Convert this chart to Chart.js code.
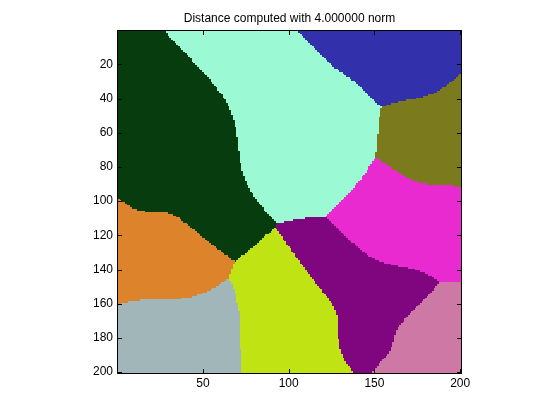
<!DOCTYPE html>
<html>
<head>
<meta charset="utf-8">
<script src="https://cdn.jsdelivr.net/npm/chart.js@4.4.1/dist/chart.umd.min.js"></script>
<style>
html, body { margin: 0; padding: 0; background: #fff; }
</style>
</head>
<body>
<canvas id="chart" width="560" height="420"></canvas>
<script>
// Voronoi seeds, one colour per region
const seedNames = ['dark green', 'aqua', 'blue', 'olive', 'magenta', 'purple', 'pink', 'yellow', 'grey', 'orange'];
const seedX = [26.3, 115, 150.3, 189, 184.5, 146.8, 176.1, 111, 33, 16.1];
const seedY = [89.4, 46.2, 6, 75.7, 104.7, 171.9, 190, 181.3, 192.1, 123.1];
const cellColors = ['#063c0e', '#9bf9d3', '#3230aa', '#7b7b1d', '#e82ad0', '#7f067f', '#ce78a6', '#c0e314', '#a0b6b8', '#dd832b'];
const xTickValues = [50, 100, 150, 200];
const yTickValues = [20, 40, 60, 80, 100, 120, 140, 160, 180, 200];
const normP = 4;
const gridSize = 200;
const titleText = 'Distance computed with 4.000000 norm';

// each pixel takes the label of its nearest seed in the 4-norm
const labels = [];
for (let j = 1; j <= gridSize; j++) {
  const row = [];
  for (let i = 1; i <= gridSize; i++) {
    let bk = 0, bd = Infinity;
    for (let k = 0; k < seedX.length; k++) {
      const d = Math.pow(Math.abs(i - seedX[k]), normP) + Math.pow(Math.abs(j - seedY[k]), normP);
      if (d < bd) { bd = d; bk = k; }
    }
    row.push(bk);
  }
  labels.push(row);
}

const cellPlugin = {
  id: 'cells',
  beforeDatasetsDraw(chart) {
    const { ctx, scales: { x, y } } = chart;
    ctx.save();
    for (let j = 0; j < gridSize; j++) {
      const ya = Math.round(y.getPixelForValue(j + 0.5)), yb = Math.round(y.getPixelForValue(j + 1.5));
      const row = labels[j];
      let c = 0;
      while (c < gridSize) {
        const lab = row[c];
        let e = c;
        while (e + 1 < gridSize && row[e + 1] === lab) e++;
        const xa = Math.round(x.getPixelForValue(c + 0.5)), xb = Math.round(x.getPixelForValue(e + 1.5));
        ctx.fillStyle = cellColors[lab];
        ctx.fillRect(xa, Math.min(ya, yb), xb - xa, Math.abs(yb - ya));
        c = e + 1;
      }
    }
    ctx.restore();
  }
};

// box round the axes with inward tick marks on all four sides
const framePlugin = {
  id: 'frame',
  afterDatasetsDraw(chart) {
    const { ctx, chartArea: a, scales: { x, y } } = chart;
    ctx.save();
    ctx.strokeStyle = '#000';
    ctx.lineWidth = 1;
    ctx.beginPath();
    for (const v of xTickValues) {
      const px = Math.round(x.getPixelForValue(v)) + 0.5;
      ctx.moveTo(px, a.bottom); ctx.lineTo(px, a.bottom - 4);
      ctx.moveTo(px, a.top); ctx.lineTo(px, a.top + 4);
    }
    for (const v of yTickValues) {
      const py = Math.round(y.getPixelForValue(v)) + 0.5;
      ctx.moveTo(a.left, py); ctx.lineTo(a.left + 4, py);
      ctx.moveTo(a.right, py); ctx.lineTo(a.right - 4, py);
    }
    ctx.stroke();
    ctx.strokeRect(a.left - 0.5, a.top - 0.5, a.right - a.left + 1, a.bottom - a.top + 1);
    ctx.restore();
  }
};

const font = { family: "'Liberation Sans', Arial, Helvetica, sans-serif", size: 12 };
new Chart(document.getElementById('chart'), {
  type: 'scatter',
  data: {
    datasets: [{
      label: 'seeds',
      data: seedX.map((v, k) => ({ x: v, y: seedY[k] })),
      pointRadius: 0
    }]
  },
  options: {
    responsive: false,
    animation: false,
    layout: { padding: { left: 0, right: 99, top: 0, bottom: 0 } },
    plugins: {
      legend: { display: false },
      tooltip: { enabled: false },
      title: {
        display: true, fullSize: false, text: titleText, color: '#000',
        font: { ...font, weight: 'normal' }, padding: { top: 11, bottom: 5.6 }
      }
    },
    scales: {
      x: {
        type: 'linear', min: 0.5, max: 200.5,
        afterBuildTicks: s => { s.ticks = xTickValues.map(v => ({ value: v })); },
        afterFit: s => { s.height = 47; },
        grid: { display: false, drawTicks: false },
        border: { display: false },
        ticks: { color: '#000', font, padding: 3, maxRotation: 0, autoSkip: false }
      },
      y: {
        type: 'linear', reverse: true, min: 0.5, max: 200.5,
        afterBuildTicks: s => { s.ticks = yTickValues.map(v => ({ value: v })); },
        afterFit: s => { s.width = 118; },
        grid: { display: false, drawTicks: false },
        border: { display: false },
        ticks: { color: '#000', font, padding: 5, autoSkip: false }
      }
    }
  },
  plugins: [cellPlugin, framePlugin]
});
</script>
</body>
</html>
